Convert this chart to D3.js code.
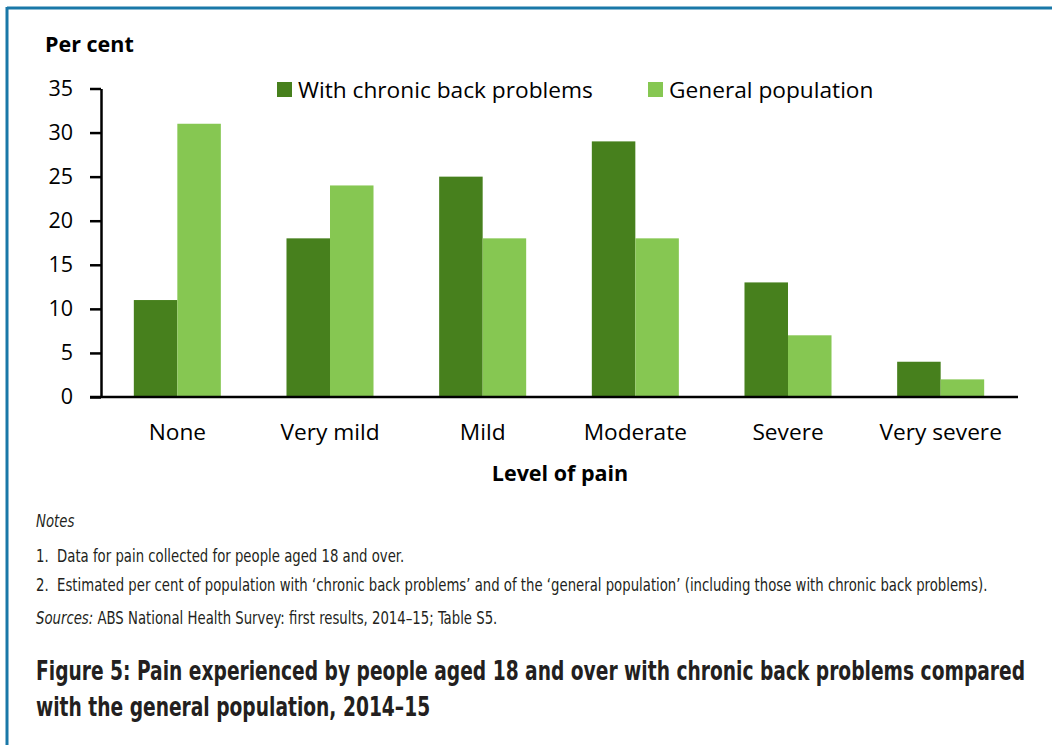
<!DOCTYPE html>
<html>
<head>
<meta charset="utf-8">
<script src="https://cdn.jsdelivr.net/npm/d3@7"></script>
<style>
  html, body { margin: 0; padding: 0; background: #fff; }
  svg { display: block; }
</style>
</head>
<body>
<svg id="chart" width="1052" height="745"></svg>
<script>
// Pain levels reported, per cent of each population
const categories = ["None", "Very mild", "Mild", "Moderate", "Severe", "Very severe"];
const seriesNames = ["With chronic back problems", "General population"];
const backProblems = [11, 18, 25, 29, 13, 4];
const generalPopulation = [31, 24, 18, 18, 7, 2];
const yTicks = [0, 5, 10, 15, 20, 25, 30, 35];
const seriesColors = ["#47801d", "#86c752"];

const notes = [
  "1.\u00a0 Data for pain collected for people aged 18 and over.",
  "2.\u00a0 Estimated per cent of population with \u2018chronic back problems\u2019 and of the \u2018general population\u2019 (including those with chronic back problems)."
];
const titleLines = [
  "Figure 5: Pain experienced by people aged 18 and over with chronic back problems compared",
  "with the general population, 2014\u201315"
];

const svg = d3.select("#chart");
const chartFont = "'Open Sans', 'Noto Sans', sans-serif";
const narrowFont = "'DejaVu Sans Condensed', 'DejaVu Sans', sans-serif";

// Frame: blue rule along the top and left edges
svg.append("line").attr("x1", 7).attr("x2", 1052).attr("y1", 8).attr("y2", 8)
  .attr("stroke", "#1a78a8").attr("stroke-width", 3);
svg.append("line").attr("x1", 7).attr("x2", 7).attr("y1", 7).attr("y2", 745)
  .attr("stroke", "#1a78a8").attr("stroke-width", 3);

const plot = { left: 101, right: 1017, top: 88.5, bottom: 397 };

const x = d3.scaleBand().domain(categories)
  .range([plot.left, plot.right]).paddingInner(0.43).paddingOuter(0.215);
const xs = d3.scaleBand().domain(seriesNames).range([0, x.bandwidth()]);
const y = d3.scaleLinear().domain([0, 35]).range([plot.bottom, plot.top]);

const rows = categories.map((c, i) => ({ cat: c, values: [backProblems[i], generalPopulation[i]] }));

// Bars
const groups = svg.append("g").selectAll("g").data(rows).join("g")
  .attr("transform", d => `translate(${x(d.cat)},0)`);
groups.selectAll("rect")
  .data(d => d.values.map((v, j) => ({ series: seriesNames[j], value: v, j })))
  .join("rect")
  .attr("x", d => xs(d.series))
  .attr("width", xs.bandwidth())
  .attr("y", d => y(d.value))
  .attr("height", d => y(0) - y(d.value))
  .attr("fill", d => seriesColors[d.j]);

// Y axis
const yAxis = svg.append("g").attr("transform", `translate(${plot.left},0)`)
  .call(d3.axisLeft(y).tickValues(yTicks).tickSize(11).tickPadding(17).tickSizeOuter(0));
yAxis.select(".domain").attr("stroke", "#000").attr("stroke-width", 2.5);
yAxis.selectAll(".tick line").attr("stroke", "#000").attr("stroke-width", 2.5);
yAxis.selectAll("text").attr("font-family", chartFont).attr("font-size", 21.5).attr("fill", "#000");

// X axis
const xAxis = svg.append("g").attr("transform", `translate(0,${plot.bottom})`)
  .call(d3.axisBottom(x).tickSize(0).tickPadding(27).tickSizeOuter(0));
xAxis.select(".domain").remove();
svg.append("line").attr("x1", plot.left - 11).attr("x2", plot.right + 1)
  .attr("y1", plot.bottom).attr("y2", plot.bottom)
  .attr("stroke", "#000").attr("stroke-width", 2.5);
xAxis.selectAll("text").attr("font-family", chartFont).attr("font-size", 22.7).attr("fill", "#000");

// Axis titles
svg.append("text").attr("x", 45).attr("y", 52).text("Per cent")
  .attr("font-family", chartFont).attr("font-weight", 700).attr("font-size", 21.5);
svg.append("text").attr("x", 560).attr("y", 481).attr("text-anchor", "middle").text("Level of pain")
  .attr("font-family", chartFont).attr("font-weight", 700).attr("font-size", 21.5);

// Legend
const legendX = [277, 648];
const legend = svg.append("g").selectAll("g").data(seriesNames).join("g")
  .attr("transform", (d, i) => `translate(${legendX[i]},82)`);
legend.append("rect").attr("width", 15).attr("height", 15).attr("fill", (d, i) => seriesColors[i]);
legend.append("text").attr("x", 21).attr("y", 15.5).text(d => d)
  .attr("font-family", chartFont).attr("font-size", 22.7);

// Notes and sources, set in a narrowed face
const footScale = 0.868;
const foot = svg.append("g").attr("font-family", narrowFont).attr("fill", "#231f20")
  .attr("transform", `translate(36,0) scale(${footScale},1)`);
foot.append("text").attr("x", 0).attr("y", 527).attr("font-style", "italic")
  .attr("font-size", 17).text("Notes");
foot.selectAll(".note").data(notes).join("text").attr("class", "note")
  .attr("x", 0).attr("y", (d, i) => 562 + i * 29).attr("font-size", 17).text(d => d);
const src = foot.append("text").attr("x", 0).attr("y", 624).attr("font-size", 17);
src.append("tspan").attr("font-style", "italic").text("Sources:");
src.append("tspan").text(" ABS National Health Survey: first results, 2014\u201315; Table S5.");

// Figure title
const titleScale = 0.768;
svg.append("g").attr("transform", `translate(36,0) scale(${titleScale},1)`)
  .selectAll("text").data(titleLines).join("text")
  .attr("x", 0).attr("y", (d, i) => 680 + i * 36)
  .attr("font-family", narrowFont).attr("font-weight", 700).attr("font-size", 27)
  .attr("fill", "#231f20").text(d => d);
</script>
</body>
</html>
